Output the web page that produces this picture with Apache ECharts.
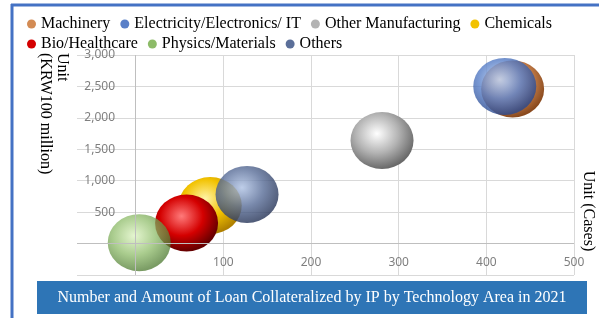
<!DOCTYPE html>
<html>
<head>
<meta charset="utf-8">
<script src="https://cdn.jsdelivr.net/npm/echarts@6/dist/echarts.min.js"></script>
<style>
  html, body { margin: 0; padding: 0; background: #fff; }
  #chart { width: 599px; height: 318px; }
</style>
</head>
<body>
<div id="chart"></div>
<script>
// technology areas (legend order = drawing order)
const categories = ['Machinery', 'Electricity/Electronics/ IT', 'Other Manufacturing', 'Chemicals', 'Bio/Healthcare', 'Physics/Materials', 'Others']
// number of loans (cases)
const caseCounts = [430, 421, 281, 85, 58, 4, 127]
// loan amount (KRW 100 million)
const loanAmounts = [2460, 2500, 1640, 606, 327, 15, 782]
// axis tick values
const xTicks = [0, 100, 200, 300, 400, 500]

// light / base / dark shades for the sphere look
const shades = [
  ['#f7c6a0', '#d38b54', '#8a4a1e'],
  ['#bcd2f4', '#5a80c8', '#2c4a8e'],
  ['#ffffff', '#b3b3b3', '#6a6a6a'],
  ['#fff4a8', '#f2c200', '#b08000'],
  ['#ff7a7a', '#d40000', '#650000'],
  ['#dcf2c0', '#8dbb68', '#4d7a30'],
  ['#b0c3e4', '#5b6f99', '#2b395c']
]
const opacities = [1, 0.82, 1, 1, 1, 0.75, 0.82]

const serif = 'Liberation Serif'
const chart = echarts.init(document.getElementById('chart'))

const series = categories.map((name, i) => ({
  name: name,
  type: 'scatter',
  symbol: 'circle',
  symbolSize: [63, 57],
  data: [[caseCounts[i], loanAmounts[i]]],
  itemStyle: {
    opacity: opacities[i],
    color: {
      type: 'radial', x: 0.42, y: 0.38, r: 0.62,
      colorStops: [
        { offset: 0, color: shades[i][0] },
        { offset: 0.55, color: shades[i][1] },
        { offset: 1, color: shades[i][2] }
      ]
    }
  },
  emphasis: { disabled: true }
}))

// zero lines (axes cross at 0)
series[0].markLine = {
  silent: true, symbol: 'none', label: { show: false },
  lineStyle: { color: '#bfbfbf', type: 'solid', width: 1 },
  data: [{ yAxis: 0 }, { xAxis: 0 }]
}

const legendBase = {
  itemWidth: 9, itemHeight: 9, itemGap: 10,
  icon: 'circle',
  textStyle: { fontFamily: serif, fontSize: 16, color: '#000' }
}

chart.setOption({
  animation: false,
  legend: [
    Object.assign({}, legendBase, {
      left: 22, top: 11,
      data: categories.slice(0, 4).map((n, i) => ({ name: n, itemStyle: { color: shades[i][1], opacity: 1 } }))
    }),
    Object.assign({}, legendBase, {
      left: 22, top: 31,
      data: categories.slice(4).map((n, i) => ({ name: n, itemStyle: { color: shades[i + 4][1], opacity: 1 } }))
    })
  ],
  grid: { left: 77, right: 25, top: 55, bottom: 43 },
  xAxis: {
    type: 'value', min: -67, max: 500,
    axisLine: { show: false },
    axisTick: { show: false, customValues: xTicks },
    axisLabel: {
      customValues: xTicks, inside: true, margin: 6,
      fontFamily: 'Noto Sans', fontSize: 12, color: '#7f7f7f',
      formatter: v => v > 0 ? String(v) : ''
    },
    splitLine: { show: true, lineStyle: { color: '#d9d9d9' } }
  },
  yAxis: {
    type: 'value', min: -500, max: 3000, interval: 500,
    axisLine: { show: false },
    axisTick: { show: false },
    axisLabel: {
      inside: true, margin: 38, align: 'right',
      fontFamily: 'Noto Sans', fontSize: 12, color: '#7f7f7f',
      formatter: v => v > 0 ? v.toLocaleString('en-US') : ''
    },
    splitLine: { show: true, lineStyle: { color: '#d9d9d9' } }
  },
  graphic: [
    { type: 'line', shape: { x1: 12, y1: 4, x2: 12, y2: 318 }, style: { stroke: '#4472c4', lineWidth: 3 } },
    { type: 'line', shape: { x1: 11, y1: 5, x2: 599, y2: 5 }, style: { stroke: '#4472c4', lineWidth: 3 } },
    {
      type: 'text', x: 54, y: 53, rotation: -Math.PI / 2,
      style: { text: 'Unit\n(KRW100 million)', align: 'left', verticalAlign: 'middle', lineHeight: 17, font: '16px "Liberation Serif"', fill: '#000' }
    },
    {
      type: 'text', x: 588, y: 211, rotation: -Math.PI / 2,
      style: { text: 'Unit (Cases)', align: 'center', verticalAlign: 'middle', font: '16px "Liberation Serif"', fill: '#000' }
    },
    { type: 'rect', shape: { x: 37, y: 281, width: 550, height: 33 }, style: { fill: '#2e75b6' } },
    {
      type: 'text', x: 312, y: 298,
      style: { text: 'Number and Amount of Loan Collateralized by IP by Technology Area in 2021', align: 'center', verticalAlign: 'middle', font: '16px "Liberation Serif"', fill: '#fff' }
    }
  ],
  series: series
})
</script>
</body>
</html>
